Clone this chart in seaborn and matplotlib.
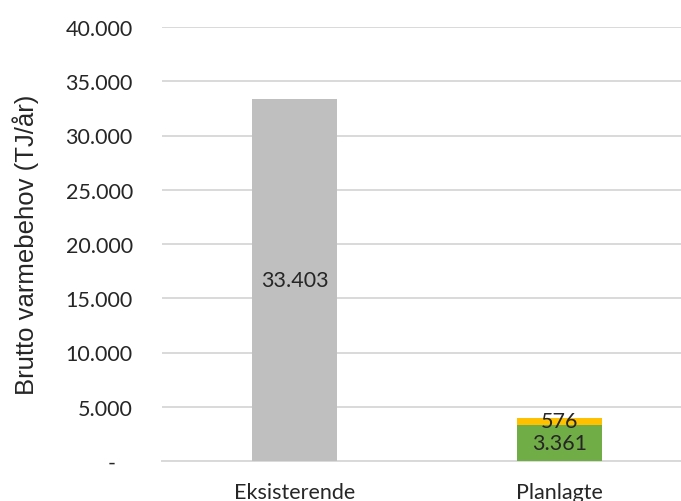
import matplotlib
matplotlib.use("Agg")
import matplotlib.pyplot as plt
import seaborn as sns
import pandas as pd

categories = ["Eksisterende", "Planlagte"]
base_values = [33403, 3361]
top_values = [0, 576]
base_colors = ["#BFBFBF", "#70AD47"]
top_color = "#FFC000"
yticks = [0, 5000, 10000, 15000, 20000, 25000, 30000, 35000, 40000]

def fmt(v):
    if v == 0:
        return "-   "
    return f"{v:,.0f}".replace(",", ".")

sns.set_theme(style="white")
plt.rcParams['font.family'] = ['Lato', 'DejaVu Sans']

df = pd.DataFrame({"cat": categories, "base": base_values, "top": top_values})

fig = plt.figure(figsize=(6.81, 5.02), dpi=100)
ax = fig.add_axes([162/681, 1 - 462/502, 1 - 162/681, (462 - 28)/502])

sns.barplot(data=df, x="cat", y="base", hue="cat", palette=base_colors,
            width=0.32, saturation=1, legend=False, ax=ax, zorder=3,
            linewidth=0)
sns.barplot(data=df, x="cat", y="top", color=top_color, width=0.32,
            saturation=1, ax=ax, zorder=3, linewidth=0,
            bottom=df["base"].to_numpy())

ax.set_ylim(0, 40000)
ax.set_xlim(-0.5, 1.458)
ax.set_yticks(yticks)
ax.set_yticklabels([fmt(v) for v in yticks])
ax.yaxis.grid(True, color="#D9D9D9", linewidth=1.4, zorder=0)
ax.set_axisbelow(True)
for s in ["top", "right", "left"]:
    ax.spines[s].set_visible(False)
ax.spines["bottom"].set_color("#D9D9D9")
ax.spines["bottom"].set_linewidth(1.4)
ax.tick_params(axis="both", length=0, labelsize=15.5, colors="#262626")
ax.tick_params(axis="y", pad=21)
ax.tick_params(axis="x", pad=15)
ax.set_xlabel("")
ax.set_ylabel("Brutto varmebehov (TJ/år)", fontsize=18.5, color="#262626",
              labelpad=19, family=["Liberation Sans", "DejaVu Sans"])

# labels
conts = ax.containers
for i, cont in enumerate(conts[:-1]):
    n = len(cont)
    labs = [fmt(base_values[i])] if n == 1 else [fmt(b) for b in base_values]
    ax.bar_label(cont, labels=labs, label_type="center", fontsize=15.5, color="#262626")
ax.bar_label(conts[-1], labels=["" if t == 0 else fmt(t) for t in top_values],
             label_type="center", fontsize=15.5, color="#262626")

fig.savefig("out.png", dpi=100)
